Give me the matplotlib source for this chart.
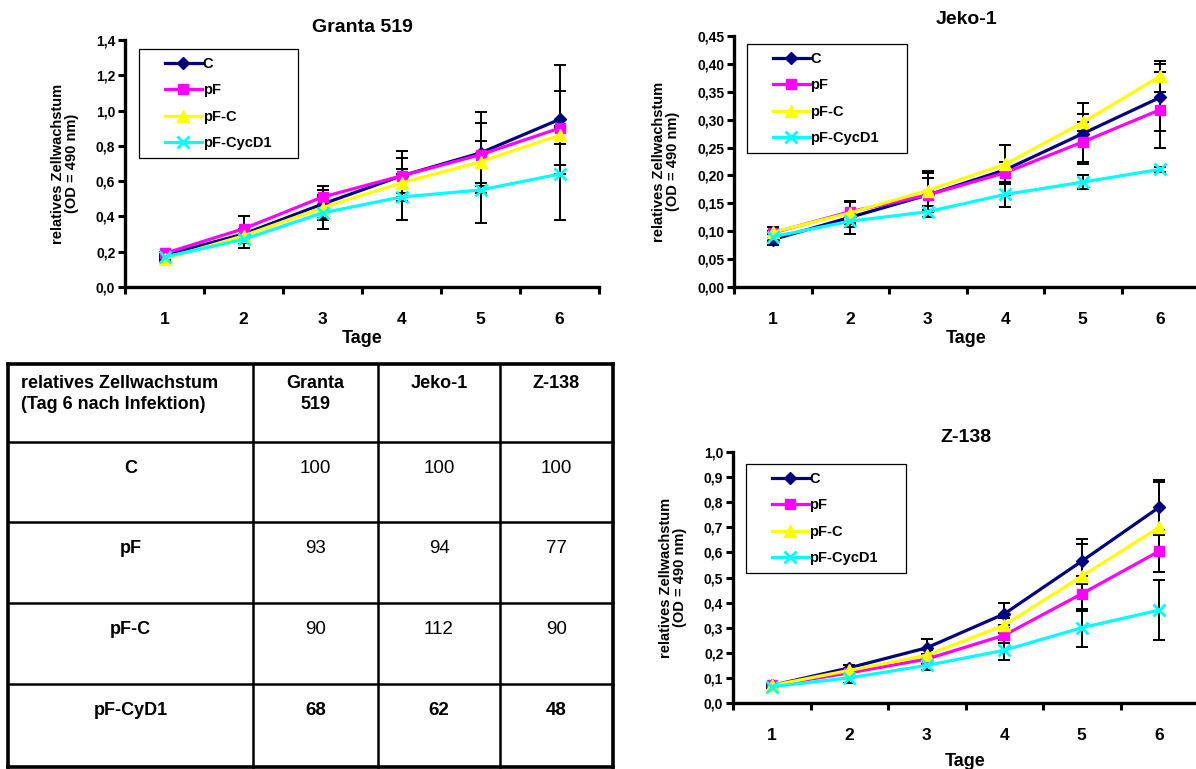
import matplotlib
matplotlib.use("Agg")
import matplotlib.pyplot as plt
from matplotlib.lines import Line2D
from matplotlib.legend_handler import HandlerLine2D

plt.rcParams['font.family'] = ['Liberation Sans', 'DejaVu Sans']

days = [1, 2, 3, 4, 5, 6]
series = ["C", "pF", "pF-C", "pF-CycD1"]

# Granta 519
granta_c = [0.18, 0.30, 0.47, 0.63, 0.76, 0.95]
granta_pf = [0.19, 0.33, 0.51, 0.63, 0.75, 0.90]
granta_pfc = [0.16, 0.29, 0.45, 0.59, 0.71, 0.86]
granta_cyc = [0.17, 0.27, 0.42, 0.51, 0.55, 0.64]
granta_c_err = [0.01, 0.03, 0.08, 0.14, 0.23, 0.31]
granta_pf_err = [0.01, 0.07, 0.06, 0.10, 0.18, 0.21]
granta_pfc_err = [0.01, 0.04, 0.07, 0.08, 0.12, 0.05]
granta_cyc_err = [0.01, 0.05, 0.09, 0.13, 0.19, 0.26]

# Jeko-1
jeko_c = [0.085, 0.125, 0.165, 0.21, 0.275, 0.34]
jeko_pf = [0.097, 0.135, 0.165, 0.205, 0.26, 0.318]
jeko_pfc = [0.098, 0.133, 0.173, 0.22, 0.295, 0.378]
jeko_cyc = [0.09, 0.118, 0.135, 0.166, 0.188, 0.211]
jeko_c_err = [0.01, 0.03, 0.03, 0.045, 0.055, 0.06]
jeko_pf_err = [0.01, 0.02, 0.04, 0.02, 0.035, 0.068]
jeko_pfc_err = [0.01, 0.02, 0.035, 0.035, 0.015, 0.028]
jeko_cyc_err = [0.01, 0.01, 0.01, 0.023, 0.012, 0.005]

# Z-138
z_c = [0.07, 0.14, 0.22, 0.355, 0.565, 0.78]
z_pf = [0.07, 0.12, 0.175, 0.27, 0.435, 0.605]
z_pfc = [0.07, 0.13, 0.19, 0.31, 0.505, 0.70]
z_cyc = [0.065, 0.10, 0.15, 0.21, 0.30, 0.37]
z_c_err = [0.005, 0.01, 0.035, 0.045, 0.09, 0.11]
z_pf_err = [0.005, 0.01, 0.02, 0.03, 0.07, 0.085]
z_pfc_err = [0.005, 0.02, 0.02, 0.03, 0.13, 0.18]
z_cyc_err = [0.005, 0.02, 0.02, 0.04, 0.075, 0.12]

# table
table_cols = ["Granta\n519", "Jeko-1", "Z-138"]
table_rows = ["C", "pF", "pF-C", "pF-CyD1"]
table_vals = [[100, 100, 100], [93, 94, 77], [90, 112, 90], [68, 62, 48]]

colors = ["#000080", "#FF00FF", "#FFFF00", "#00FFFF"]
markers = ["D", "s", "^", "x"]
msizes = [6.5, 7.5, 9, 8]

W, H = 1196, 769


def px_axes(fig, left, right, top, bottom):
    return fig.add_axes([left / W, 1 - bottom / H, (right - left) / W, (bottom - top) / H])


def growth_plot(ax, data, errs, ymax, ystep, fmt, title, legend_box, title_pad,
                xlabel_pad=2.5):
    for vals, err in zip(data, errs):
        ax.errorbar(days, vals, yerr=err, fmt='none', ecolor='black',
                    elinewidth=1.4, capsize=4, capthick=1.4, zorder=3)
    for vals, name, c, m, ms in zip(data, series, colors, markers, msizes):
        ax.plot(days, vals, color=c, marker=m, markersize=ms, lw=2.3,
                mew=2 if m == 'x' else 1, label=name, zorder=4)
    ax.set_xlim(0.5, 6.5)
    ax.set_ylim(0, ymax)
    ticks = [i * ystep for i in range(int(round(ymax / ystep)) + 1)]
    ax.set_yticks(ticks)
    ax.set_yticklabels([fmt.format(t).replace('.', ',') for t in ticks],
                       fontsize=10, fontweight='bold')
    ax.set_xticks(days)
    ax.set_xticklabels([str(d) for d in days], fontsize=12.5, fontweight='bold')
    ax.set_xticks([d + 0.5 for d in [0] + days], minor=True)
    ax.tick_params(axis='x', which='major', length=0, pad=18)
    ax.tick_params(axis='x', which='minor', length=5, width=2.2, direction='out')
    ax.tick_params(axis='y', length=5, width=2.2, direction='out', pad=2)
    for s in ['top', 'right']:
        ax.spines[s].set_visible(False)
    for s in ['left', 'bottom']:
        ax.spines[s].set_linewidth(2.4)
    ax.set_title(title, fontsize=14, fontweight='bold', pad=title_pad)
    ax.set_xlabel("Tage", fontsize=13, fontweight='bold', labelpad=xlabel_pad)
    ax.set_ylabel("relatives Zellwachstum\n(OD = 490 nm)", fontsize=10.5,
                  fontweight='bold', labelpad=12, linespacing=1.0)
    leg = ax.legend(loc='upper left', bbox_to_anchor=legend_box, mode='expand',
                    frameon=True, fancybox=False, edgecolor='black',
                    framealpha=1, prop={'weight': 'bold', 'size': 10.5},
                    handlelength=3.75, handletextpad=0.05, labelspacing=0.85,
                    borderpad=0.55, borderaxespad=0,
                    handler_map={Line2D: HandlerLine2D(xpad=1.2)})
    leg.get_frame().set_linewidth(0.9)


fig = plt.figure(figsize=(W / 100, H / 100), dpi=100)

ax1 = px_axes(fig, 125, 599, 40, 287)
growth_plot(ax1, [granta_c, granta_pf, granta_pfc, granta_cyc],
            [granta_c_err, granta_pf_err, granta_pfc_err, granta_cyc_err],
            1.4, 0.2, "{:.1f}", "Granta 519", (0.03, 0.0, 0.335, 0.964), 5.5)

ax2 = px_axes(fig, 734, 1199, 36, 287)
growth_plot(ax2, [jeko_c, jeko_pf, jeko_pfc, jeko_cyc],
            [jeko_c_err, jeko_pf_err, jeko_pfc_err, jeko_cyc_err],
            0.45, 0.05, "{:.2f}", "Jeko-1", (0.028, 0.0, 0.344, 0.968), 9)

ax3 = px_axes(fig, 733, 1198, 452, 703)
growth_plot(ax3, [z_c, z_pf, z_pfc, z_cyc],
            [z_c_err, z_pf_err, z_pfc_err, z_cyc_err],
            1.0, 0.1, "{:.1f}", "Z-138", (0.028, 0.0, 0.344, 0.952), 7,
            xlabel_pad=7)

# table drawn in pixel coordinates
tx = [8, 253, 378, 500, 613]
ty = [364, 442, 522, 603, 684, 767]
tab = px_axes(fig, 0, 620, 355, 769)
tab.set_xlim(0, 620)
tab.set_ylim(769, 355)
tab.axis('off')
for x in tx:
    lw = 2.6 if x in (tx[0], tx[-1]) else 1.8
    tab.plot([x, x], [ty[0], ty[-1]], color='black', lw=lw, solid_capstyle='projecting')
for y in ty:
    lw = 2.6 if y in (ty[0], ty[-1]) else 1.8
    tab.plot([tx[0], tx[-1]], [y, y], color='black', lw=lw, solid_capstyle='projecting')

tab.text(21, 375, "relatives Zellwachstum\n(Tag 6 nach Infektion)", ha='left', va='top',
         fontsize=13, fontweight='bold', linespacing=1.3)
for j, col in enumerate(table_cols):
    cx = (tx[j + 1] + tx[j + 2]) / 2
    tab.text(cx, 375, col, ha='center', va='top', fontsize=13, fontweight='bold',
             linespacing=1.3)
for i, row in enumerate(table_rows):
    cy = ty[i + 1] + 26
    tab.text((tx[0] + tx[1]) / 2, cy, row, ha='center', va='center',
             fontsize=13, fontweight='bold')
    for j, v in enumerate(table_vals[i]):
        cx = (tx[j + 1] + tx[j + 2]) / 2
        tab.text(cx, cy, str(v), ha='center', va='center', fontsize=13.5,
                 fontweight='bold' if i == len(table_rows) - 1 else 'normal')

fig.savefig("out.png", dpi=100)
